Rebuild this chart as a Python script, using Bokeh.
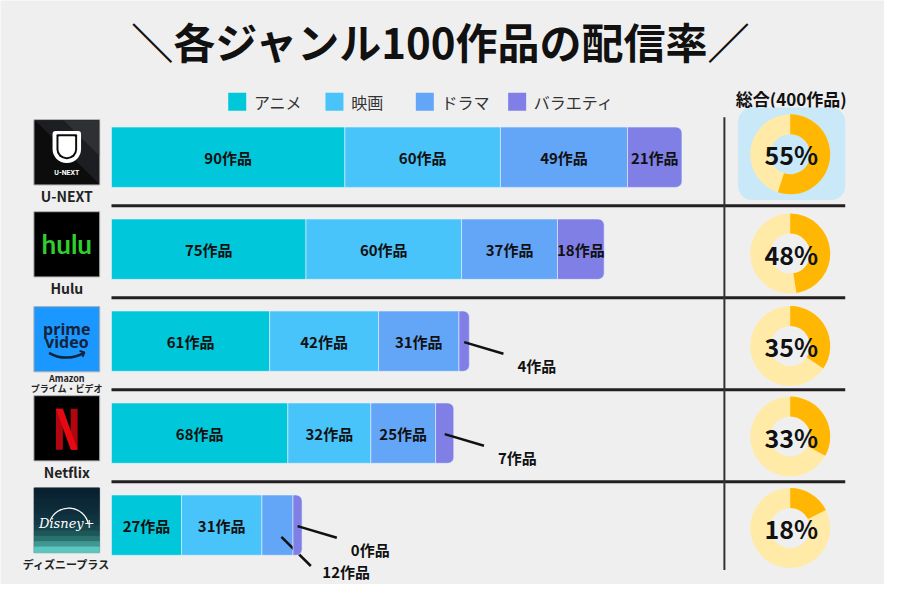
import math
from bokeh.plotting import figure
from bokeh.models import Range1d
from bokeh.core.properties import value
from bokeh.embed import file_html
from bokeh.resources import INLINE

# ---------------- data ----------------
services = ["U-NEXT", "Hulu", "Amazon\nプライム・ビデオ", "Netflix", "ディズニープラス"]
genres = ["アニメ", "映画", "ドラマ", "バラエティ"]
anime = [90, 75, 61, 68, 27]
movie = [60, 60, 42, 32, 31]
drama = [49, 37, 31, 25, 12]
variety = [21, 18, 4, 7, 0]
TOTAL = 400
title_text = "＼各ジャンル100作品の配信率／"
unit = "作品"

# ---------------- style / layout ----------------
FONT = "Noto Sans CJK JP"
BG = "#efefef"
GENRE_COLORS = ["#00c8da", "#48c4fb", "#63a6f8", "#7f7fe6"]
DONUT_ON = "#ffb703"
DONUT_OFF = "#ffeaa8"
BAR_X0 = 113          # layout x where bars start
S = 2.64              # layout units per work
BAR_H = 62
ROW_Y0, ROW_DY = 161, 94.5
DONUT_X = 804
DONUT_Y = [158, 260, 355, 448, 542]
LOGO_X = 67.5
LOGO = 67
LEGEND_X = [232, 331, 423, 517]


def Y(v):
    return 600 - v


p = figure(width=884, height=584, x_range=Range1d(0, 900), y_range=Range1d(0, 600),
           output_backend="svg", toolbar_location=None, min_border=0,
           x_axis_location=None, y_axis_location=None)
p.grid.visible = False
p.outline_line_color = None
p.background_fill_color = BG
p.border_fill_color = BG
p.extra_x_ranges = {"w": Range1d((0 - BAR_X0) / S, (900 - BAR_X0) / S)}

n = len(services)
row_y = [ROW_Y0 + i * ROW_DY for i in range(n)]

# ---------------- title & legend ----------------
p.text(x=[449], y=[Y(41)], text=[title_text], text_font=value(FONT), text_font_style="bold",
       text_font_size="42px", text_align="center", text_baseline="middle", text_color="#111111")

p.rect(x=[lx + 9 for lx in LEGEND_X], y=[Y(104)] * 4, width=18, height=18,
       width_units="screen", height_units="screen", fill_color=GENRE_COLORS, line_color=None)
p.text(x=[lx + 26 for lx in LEGEND_X], y=[Y(104)] * 4, text=genres, text_font=value(FONT),
       text_font_size="16px", text_baseline="middle", text_align="left", text_color="#333333")

p.text(x=[805], y=[Y(101)], text=[f"総合({TOTAL}{unit})"], text_font=value(FONT),
       text_font_style="bold", text_font_size="17px", text_align="center",
       text_baseline="middle", text_color="#111111")

# ---------------- grid lines ----------------
p.segment(x0=[BAR_X0] * (n - 1), x1=[860] * (n - 1), y0=[Y(r + 50) for r in row_y[:-1]],
          y1=[Y(r + 50) for r in row_y[:-1]], line_color="#231f20", line_width=3)
p.segment(x0=[737], x1=[737], y0=[Y(120)], y1=[Y(585)], line_color="#333333", line_width=2)

# ---------------- bars ----------------
series = [anime, movie, drama, variety]
shown = [[v if v > 0 else 3.5 for v in s] for s in series]
last = len(series) - 1
for gi in range(len(series)):
    lefts = [sum(shown[k][r] for k in range(gi)) for r in range(n)]
    rights = [lefts[r] + shown[gi][r] for r in range(n)]
    kw = {}
    if gi == last:
        kw["border_radius"] = (0, 6, 6, 0)
    p.hbar(y=[Y(r) for r in row_y], left=lefts, right=rights, height=BAR_H,
           fill_color=GENRE_COLORS[gi], line_color="#e6f2fb", line_width=1, line_alpha=0.6,
           x_range_name="w", **kw)

    in_x, in_y, in_t = [], [], []
    for r in range(n):
        v = series[gi][r]
        c = (lefts[r] + rights[r]) / 2
        label = f"{v}{unit}"
        if v >= 15:
            in_x.append(c); in_y.append(Y(row_y[r])); in_t.append(label)
        else:
            if gi == last:
                sx, sy = c, row_y[r] + 1
                ex, ey = c + 40 / S, sy + 12
                tx, ty = ex + 34 / S, ey + 12
            else:
                sx, sy = c + 4 / S, row_y[r] + 12
                ex, ey = sx + 30 / S, sy + 30
                tx, ty = ex + 36 / S, ey + 6
            p.segment(x0=[sx], y0=[Y(sy)], x1=[ex], y1=[Y(ey)], line_color="#111111",
                      line_width=2.5, x_range_name="w")
            p.text(x=[tx], y=[Y(ty)], text=[label], text_font=value(FONT), text_font_style="bold",
                   text_font_size="15px", text_align="center", text_baseline="middle",
                   text_color="#111111", x_range_name="w")
    if in_x:
        p.text(x=in_x, y=in_y, text=in_t, text_font=value(FONT), text_font_style="bold",
               text_font_size="15px", text_align="center", text_baseline="middle",
               text_color="#111111", x_range_name="w")

# ---------------- donuts ----------------
totals = [sum(s[r] for s in series) for r in range(n)]
pcts = [math.floor(t * 100 / TOTAL + 0.5) for t in totals]

p.quad(left=[751], right=[860], top=[Y(110)], bottom=[Y(205)], fill_color="#c9e9f8",
       line_color=None, border_radius=14)
dy = [Y(v) for v in DONUT_Y]
p.annulus(x=[DONUT_X] * n, y=dy, inner_radius=20, outer_radius=40,
          inner_radius_units="screen", outer_radius_units="screen",
          fill_color=DONUT_OFF, line_color=None)
p.annular_wedge(x=[DONUT_X] * n, y=dy, inner_radius=20, outer_radius=40,
                inner_radius_units="screen", outer_radius_units="screen",
                start_angle=[math.pi / 2] * n,
                end_angle=[math.pi / 2 - 2 * math.pi * t / TOTAL for t in totals],
                direction="clock", fill_color=DONUT_ON, line_color=None)
p.text(x=[DONUT_X + 1] * n, y=dy, text=[f"{v}%" for v in pcts], text_font=value(FONT),
       text_font_size="25px", text_font_style="bold", text_align="center",
       text_baseline="middle", text_color="#111111")

# ---------------- logos ----------------
h = LOGO / 2
logo_cy = [r - 5 for r in row_y]
logo_cy[2] += 3


def box(cx, cy, color):
    p.quad(left=[cx - h], right=[cx + h], top=[Y(cy - h)], bottom=[Y(cy + h)],
           fill_color=color, line_color="#b0b0b0", line_width=1)


# U-NEXT
cx, cy = LOGO_X, logo_cy[0]
box(cx, cy, "#0c0c0d")
p.patch(x=[cx - h + 1, cx + h - 0.5, cx + h - 0.5], y=[Y(cy - h + 0.5), Y(cy - h + 0.5), Y(cy + h - 1)],
        fill_color="#1d1e21", line_color=None)
p.patch(x=[cx - h * 0.1, cx + h - 0.5, cx + h - 0.5], y=[Y(cy - h + 0.5), Y(cy - h + 0.5), Y(cy + h * 0.1)],
        fill_color="#2f3034", line_color=None)
p.quad(left=[cx - 14.5], right=[cx + 14.5], top=[Y(cy - 22)], bottom=[Y(cy + 11)],
       fill_color="white", line_color=None, border_radius=(3, 3, 14, 14))
p.quad(left=[cx - 10.5], right=[cx + 10.5], top=[Y(cy - 18.5)], bottom=[Y(cy + 7)],
       fill_color="#0c0c0d", line_color=None, border_radius=(1, 1, 10, 10))
p.quad(left=[cx - 8.5], right=[cx + 8.5], top=[Y(cy - 16.5)], bottom=[Y(cy + 5)],
       fill_color="white", line_color=None, border_radius=(1, 1, 8, 8))
p.text(x=[cx], y=[Y(cy + 21)], text=["U-NEXT"], text_font=value("Roboto"), text_font_style="bold",
       text_font_size="7px", text_align="center", text_baseline="middle", text_color="white")

# Hulu
cx, cy = LOGO_X, logo_cy[1]
box(cx, cy, "#000000")
p.text(x=[cx], y=[Y(cy)], text=["hulu"], text_font=value("Lato"), text_font_style="bold",
       text_font_size="26px", text_align="center", text_baseline="middle", text_color="#2ecf2e")

# Prime Video
cx, cy = LOGO_X, logo_cy[2]
box(cx, cy, "#1a98ff")
p.text(x=[cx, cx], y=[Y(cy - 11), Y(cy + 3)], text=["prime", "video"], text_font=value("Open Sans"),
       text_font_style="bold", text_font_size="16px", text_align="center", text_baseline="middle",
       text_color="#15233a")
p.bezier(x0=[cx - 18], y0=[Y(cy + 14)], x1=[cx + 17], y1=[Y(cy + 14)], cx0=[cx - 7], cy0=[Y(cy + 21)],
         cx1=[cx + 8], cy1=[Y(cy + 20)], line_color="#15233a", line_width=2.5)
p.line(x=[cx + 13, cx + 18, cx + 16], y=[Y(cy + 12), Y(cy + 13.5), Y(cy + 18)], line_color="#15233a", line_width=2)

# Netflix
cx, cy = LOGO_X, logo_cy[3]
box(cx, cy, "#000000")
p.quad(left=[cx - 11, cx + 4], right=[cx - 4, cx + 11], top=[Y(cy - 20)] * 2, bottom=[Y(cy + 22)] * 2,
       fill_color="#b1060f", line_color=None)
p.patch(x=[cx - 11, cx - 4, cx + 11, cx + 4], y=[Y(cy - 20), Y(cy - 20), Y(cy + 22), Y(cy + 22)],
        fill_color="#e50914", line_color=None)

# Disney+
cx, cy = LOGO_X, logo_cy[4]
box(cx, cy, "#0a2130")
grad = ["#0a2130", "#0b2433", "#0c2736", "#0d2a39", "#0e2e3c", "#103340", "#123a45",
        "#16454d", "#1d5758", "#2a7170", "#3f9893", "#5cc6c0"]
k = len(grad)
for i, col in enumerate(grad):
    t0 = cy - h + 0.5 + (LOGO - 1) * i / k
    p.quad(left=[cx - h + 0.5], right=[cx + h - 0.5], top=[Y(t0)], bottom=[Y(t0 + (LOGO - 1) / k)],
           fill_color=col, line_color=col, line_width=1)
p.arc(x=[cx + 2], y=[Y(cy + 8)], radius=20, radius_units="screen", start_angle=0.2,
      end_angle=2.8, line_color="white", line_width=1.2)
p.text(x=[cx], y=[Y(cy + 3)], text=["Disney+"], text_font=value("DejaVu Serif"),
       text_font_style="italic", text_font_size="13px", text_align="center",
       text_baseline="middle", text_color="white")

# service names
for i, name in enumerate(services):
    base = logo_cy[i] + h
    if "\n" in name:
        a, b = name.split("\n")
        p.text(x=[LOGO_X, LOGO_X], y=[Y(base + 7), Y(base + 17)], text=[a, b], text_font=value(FONT),
               text_font_style="bold", text_font_size="9px", text_align="center",
               text_baseline="middle", text_color="#222222")
    else:
        fs = "14px" if len(name) < 8 else "11px"
        p.text(x=[LOGO_X], y=[Y(base + 11)], text=[name], text_font=value(FONT),
               text_font_style="bold", text_font_size=fs, text_align="center",
               text_baseline="middle", text_color="#222222")

open("out.html", "w").write(file_html(p, INLINE))
